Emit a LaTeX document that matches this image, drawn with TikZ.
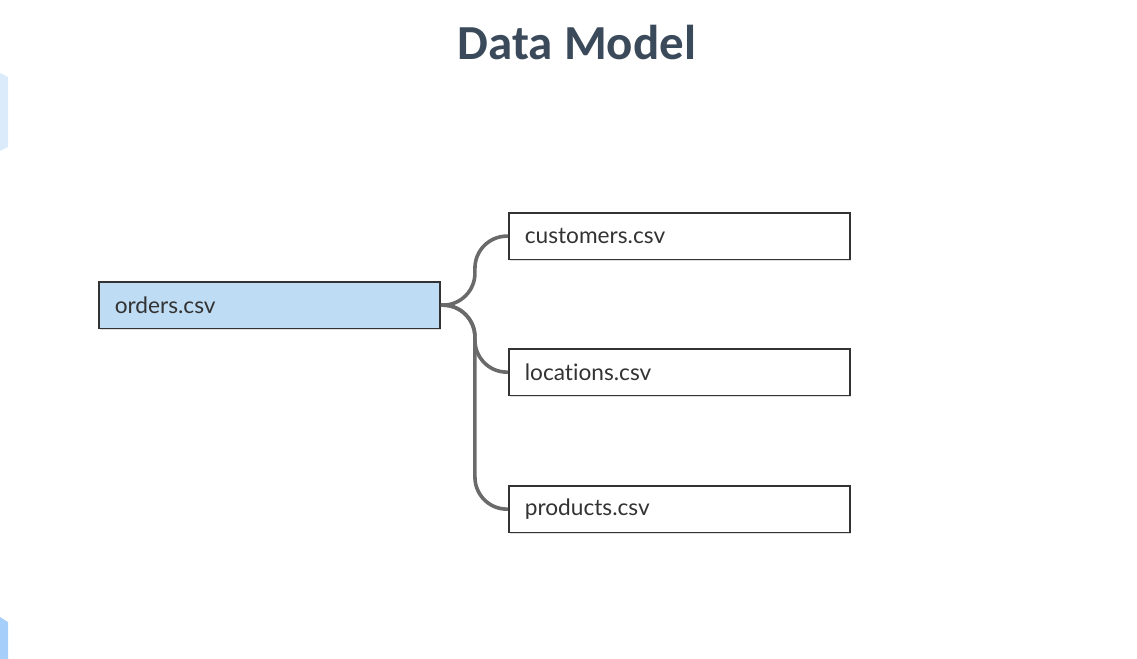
\documentclass[tikz,border=0pt]{standalone}
\usepackage{fontspec}
\setmainfont{Lato}[Ligatures=NoCommon]
\newfontfamily\titlefont{Carlito}
\usetikzlibrary{shadows}
\definecolor{titlegray}{HTML}{3B4A5A}
\definecolor{rootblue}{HTML}{BEDCF4}
\definecolor{linkgray}{HTML}{6A6A6A}
\definecolor{sidelight}{HTML}{DCEBFC}
\definecolor{sidedark}{HTML}{A6CEFA}
\begin{document}
\begin{tikzpicture}[x=0.75pt,y=-0.75pt,
		tablebox/.style={draw=black!80,line width=1.2pt,fill=white,minimum width=256pt,minimum height=35pt,
			inner xsep=12pt,text width=232pt,align=left,anchor=north west,font=\fontsize{17}{19}\selectfont,text=black!80,
			drop shadow={shadow xshift=1pt,shadow yshift=-1pt,opacity=0.25}},
		rootbox/.style={tablebox,fill=rootblue},
		link/.style={draw=linkgray,line width=2.7pt,rounded corners=24pt}]
	\useasboundingbox (0,0) rectangle (1137,659);
	% side pieces
	\fill [sidelight] (0,73) -- (8,77) -- (8,147) -- (0,151) -- cycle;
	\fill [sidedark] (0,617) -- (8,622) -- (8,659) -- (0,659) -- cycle;
	% title
	\node (title) at (577,43) {\titlefont\bfseries\fontsize{36.7}{40}\selectfont\color{titlegray}Data Model};
	% tables
	\node [rootbox] (orders) at (98,281) {orders.csv};
	\node [tablebox] (customers) at (508,212) {customers.csv};
	\node [tablebox] (locations) at (508,348) {locations.csv};
	\node [tablebox] (products) at (508,485) {products.csv};
	% links
	\draw [link] (orders.east) -- ++(34,0) |- (customers.west);
	\draw [link] (orders.east) -- ++(34,0) |- (locations.west);
	\draw [link] (orders.east) -- ++(34,0) |- (products.west);
\end{tikzpicture}
\end{document}
